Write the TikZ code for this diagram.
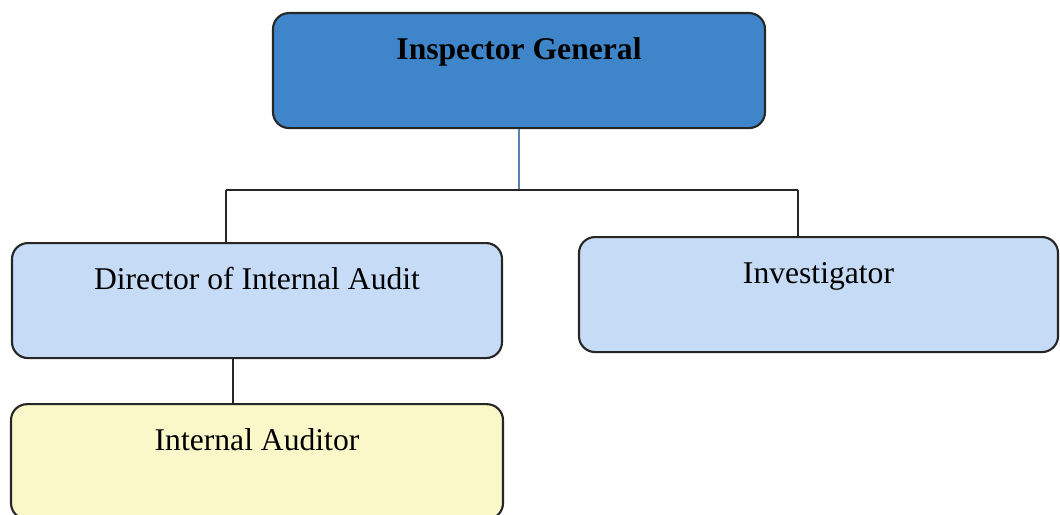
\documentclass[tikz,border=0pt]{standalone}
\usepackage{fontspec}
\setmainfont{Liberation Serif}
\usetikzlibrary{positioning}
\definecolor{chiefblue}{RGB}{62,134,201}
\definecolor{staffblue}{RGB}{198,220,246}
\definecolor{auditcream}{RGB}{250,247,201}
\definecolor{edgegray}{RGB}{38,38,38}
\definecolor{linkblue}{RGB}{88,128,176}
\tikzstyle{block} = [rectangle, draw=edgegray, line width=1.2pt, rounded corners=0.32cm,
    inner sep=0pt, text height=0.92cm, text depth=1.38cm, font=\fontsize{18}{20}\selectfont]
\tikzstyle{line} = [draw=edgegray, line width=0.8pt]
\begin{document}
\begin{tikzpicture}

	\path [use as bounding box, clip] (0,0) rectangle (21.2,-10.28);

	\node [block, fill=chiefblue, minimum width=9.84cm, anchor=north,
		font=\fontsize{18}{20}\selectfont\bfseries] (chief) at (10.38,-0.24) {Inspector General};

	\node [block, fill=staffblue, minimum width=9.8cm, anchor=north] (director) at (5.14,-4.84) {Director of Internal Audit};
	\node [block, fill=staffblue, minimum width=9.58cm, anchor=north] (investigator) at (16.37,-4.72) {Investigator};
	\node [block, fill=auditcream, minimum width=9.84cm, below=0.88cm of director] (auditor) {Internal Auditor};

	\coordinate (leftdrop) at (4.52,-3.8);
	\coordinate (rightdrop) at (15.96,-3.8);

	\path [line, draw=linkblue] (chief.south) -- (chief.south |- leftdrop);
	\path [line] (leftdrop) -- (rightdrop);
	\path [line] (leftdrop) -- (leftdrop |- director.north);
	\path [line] (rightdrop) -- (rightdrop |- investigator.north);

	\path [line] ([xshift=-0.48cm]director.south) -- ([xshift=-0.48cm]director.south |- auditor.north);
\end{tikzpicture}
\end{document}
